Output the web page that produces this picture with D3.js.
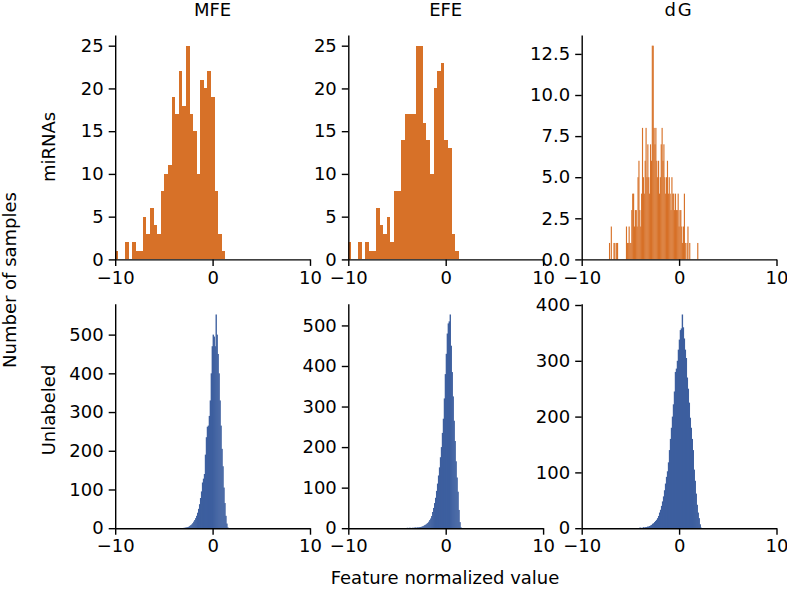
<!DOCTYPE html>
<html><head><meta charset="utf-8">
<script src="https://cdn.jsdelivr.net/npm/d3@7"></script>
<style>body{margin:0;background:#fff} text{font-family:"DejaVu Sans",sans-serif}</style>
</head><body><svg id="c" width="787" height="589"></svg>
<script>
// ---------- data ----------
const columns = ["MFE", "EFE", "dG"];
const rows = ["miRNAs", "Unlabeled"];
const xTicks = [-10, 0, 10];
const yTicksMi = [0, 5, 10, 15, 20, 25];
const yTicksMiDG = [0, 2.5, 5, 7.5, 10, 12.5];
const yTicksUnl = [0, 100, 200, 300, 400, 500];
const yTicksUnlDG = [0, 100, 200, 300, 400];

// histogram bins: [lo, hi] range and counts per equal-width bin
const mfeMiRange = [-10.1, 1.31];
const mfeMiCounts = [1,0,0,2,0,2,1,1,5,3,6,4,3,8,10,11,19,17,22,18,25,17,15,10,21,20,22,19,8,3,1];
const efeMiRange = [-10.1, 1.34];
const efeMiCounts = [2,0,0,2,0,2,1,1,6,4,3,5,2,8,8,14,17,17,17,25,25,16,14,10,20,22,23,14,13,3,1];
const dgMiRange = [-7.2, 1.95];
const dgMiCounts = [1,0,2,0,0,1,1,0,1,1, 0,0,0,0,0,0,0,0,0,2, 1,1,2,1,1,3,4,4,2,3,
  3,2,5,6,3,2,4,8,5,4, 6,8,5,7,5,4,7,6,13,13, 8,7,8,6,5,6,4,5,7,8, 6,7,5,4,5,6,4,5,4,3,
  5,4,4,3,4,3,3,4,2,3, 3,2,1,2,4,1,0,1,2,0, 1,0,0,0,0,0,0,0,0,1];

const mfeUnRange = [-3.0, 1.6];
const mfeUnCounts = [1,1,2,2,3,4,6,8,10,13, 17,21,26,32,40,50,62,78,95,118,
  128,140,190,235,262,265,290,330,400,470, 500,495,470,552,500,450,400,330,265,205,
  160,105,65,32,12,2];
const efeUnRange = [-4.0, 1.6];
const efeUnCounts = [1,0,1,1,0,1,1,1,2,1, 2,2,2,3,3,4,5,6,8,9, 11,13,16,20,24,30,40,50,62,75,
  92,110,130,150,175,200,235,270,320,380, 430,480,505,510,527,450,385,325,265,215,
  165,125,90,45,15,2];
const dgUnRange = [-4.1, 2.3];
const dgUnCounts = [1,1,0,1,2,1,2,2,3,3, 4,5,6,8,9,11,13,15,18,22, 28,33,40,48,57,68,80,92,102,118,
  140,160,180,200,222,245,280,286,300,320, 338,355,358,383,360,340,320,305,270,250,
  225,198,180,160,140,105,85,62,42,28, 18,7,1];

// ---------- layout ----------
const W = 787, H = 589;
const colLeft = [115.2, 348.3, 581.7];
const panelW = 194.8;
const rowTop = [35, 303.8];
const panelH = 224.4;
const orange = "#d77128";
const blue = "#3d5f9f";
const fontSize = 18;

const panels = [
  {r:0, c:0, range:mfeMiRange, counts:mfeMiCounts, ticks:yTicksMi, fmt:d3.format("d"), color:orange, pad:0, crisp:true},
  {r:0, c:1, range:efeMiRange, counts:efeMiCounts, ticks:yTicksMi, fmt:d3.format("d"), color:orange, pad:0, crisp:true},
  {r:0, c:2, range:dgMiRange, counts:dgMiCounts, ticks:yTicksMiDG, fmt:d3.format(".1f"), color:orange, pad:0.25, crisp:false},
  {r:1, c:0, range:mfeUnRange, counts:mfeUnCounts, ticks:yTicksUnl, fmt:d3.format("d"), color:blue, pad:0.4, crisp:false},
  {r:1, c:1, range:efeUnRange, counts:efeUnCounts, ticks:yTicksUnl, fmt:d3.format("d"), color:blue, pad:0.4, crisp:false},
  {r:1, c:2, range:dgUnRange, counts:dgUnCounts, ticks:yTicksUnlDG, fmt:d3.format("d"), color:blue, pad:0.4, crisp:false},
];

const svg = d3.select("#c");
const defs = svg.append("defs");

panels.forEach((p, k) => {
  const x0 = colLeft[p.c], y0 = rowTop[p.r];
  const x = d3.scaleLinear().domain([-10, 10]).range([0, panelW]);
  const yMax = d3.max(p.counts) * 1.05;
  const y = d3.scaleLinear().domain([0, yMax]).range([panelH, 0]);
  const n = p.counts.length;
  const bw = (p.range[1] - p.range[0]) / n;
  const bins = p.counts.map((v, i) => ({x0: p.range[0] + i * bw, x1: p.range[0] + (i + 1) * bw, v}));

  defs.append("clipPath").attr("id", "clip" + k)
    .append("rect").attr("x", 0).attr("y", 0).attr("width", panelW).attr("height", panelH);

  const g = svg.append("g").attr("transform", `translate(${x0},${y0})`);
  g.append("g").attr("clip-path", `url(#clip${k})`)
    .attr("shape-rendering", p.crisp ? "crispEdges" : null)
    .selectAll("rect").data(bins.filter(b => b.v > 0)).join("rect")
    .attr("x", b => x(b.x0))
    .attr("width", b => x(b.x1) - x(b.x0) + p.pad)
    .attr("y", b => y(b.v))
    .attr("height", b => y(0) - y(b.v))
    .attr("fill", p.color);

  const ax = g.append("g").attr("transform", `translate(0,${panelH})`)
    .call(d3.axisBottom(x).tickValues(xTicks).tickSize(6.5).tickPadding(5).tickSizeOuter(0)
      .tickFormat(d3.format("d")));
  const ay = g.append("g")
    .call(d3.axisLeft(y).tickValues(p.ticks).tickSize(6.5).tickPadding(5).tickSizeOuter(0)
      .tickFormat(p.fmt));
  [ax, ay].forEach(a => {
    a.select(".domain").attr("stroke", "#000").attr("stroke-width", 1.4);
    a.selectAll(".tick line").attr("stroke", "#000").attr("stroke-width", 1.4);
    a.selectAll(".tick text").attr("fill", "#000").style("font-size", fontSize + "px")
      .style("font-family", '"DejaVu Sans", sans-serif');
  });

  if (p.r === 0) {
    svg.append("text").attr("x", x0 + panelW / 2).attr("y", 16)
      .attr("text-anchor", "middle").style("font-size", fontSize + "px")
      .style("letter-spacing", p.c === 2 ? "2px" : null)
      .text(columns[p.c]);
  }
});

// row labels
const rowLabelY = [147, 410];
rows.forEach((r, i) => {
  svg.append("text").attr("transform", `translate(55,${rowLabelY[i]}) rotate(-90)`)
    .attr("text-anchor", "middle").style("font-size", fontSize + "px").text(r);
});
svg.append("text").attr("transform", "translate(15.5,280) rotate(-90)")
  .attr("text-anchor", "middle").style("font-size", fontSize + "px").text("Number of samples");
svg.append("text").attr("x", 445).attr("y", 584)
  .attr("text-anchor", "middle").style("font-size", fontSize + "px").text("Feature normalized value");
</script></body></html>
